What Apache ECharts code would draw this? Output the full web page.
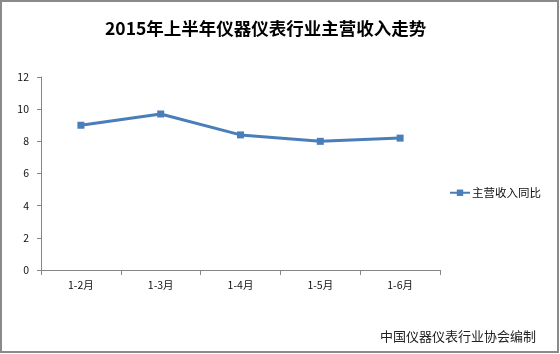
<!DOCTYPE html>
<html>
<head>
<meta charset="utf-8">
<script src="https://cdn.jsdelivr.net/npm/echarts@6/dist/echarts.min.js"></script>
<style>
  html, body { margin: 0; padding: 0; background: #fff; }
  #main { width: 560px; height: 354px; }
</style>
</head>
<body>
<div id="main"></div>
<script>
var months = ['1-2月', '1-3月', '1-4月', '1-5月', '1-6月'];
var revenueYoY = [9.0, 9.7, 8.4, 8.0, 8.2];
var yTicks = { min: 0, max: 12, interval: 2 };

var chart = echarts.init(document.getElementById('main'));

var option = {
  animation: false,
  backgroundColor: '#fff',
  textStyle: { fontFamily: '"Noto Sans CJK SC", sans-serif' },
  title: {
    text: '2015年上半年仪器仪表行业主营收入走势',
    left: 100,
    top: 15,
    textStyle: { fontSize: 17.5, fontWeight: 'bold', color: '#000' }
  },
  graphic: [
    {
      type: 'rect',
      shape: { x: 1, y: 1, width: 557, height: 351 },
      style: { fill: 'none', stroke: '#8a8a8a', lineWidth: 2 },
      silent: true
    },
    {
      type: 'text',
      right: 24,
      top: 330,
      style: { text: '中国仪器仪表行业协会编制', fontSize: 13, fill: '#222', fontFamily: '"Noto Sans CJK SC", sans-serif' }
    }
  ],
  legend: {
    left: 444,
    top: 182,
    itemWidth: 20,
    itemHeight: 8,
    itemGap: 4,
    textStyle: { fontSize: 11.5, color: '#111', padding: [0, 0, 0, -3] },
    data: ['主营收入同比']
  },
  grid: { left: 41, right: 120, top: 77, bottom: 84 },
  xAxis: {
    type: 'category',
    data: months,
    boundaryGap: true,
    axisLine: { lineStyle: { color: '#868686' } },
    axisTick: { show: true, length: 5, inside: false, lineStyle: { color: '#868686' } },
    axisLabel: { fontSize: 10.5, color: '#111', margin: 10 }
  },
  yAxis: {
    type: 'value',
    min: yTicks.min,
    max: yTicks.max,
    interval: yTicks.interval,
    axisLine: { show: true, lineStyle: { color: '#868686' } },
    axisTick: { show: true, length: 4, lineStyle: { color: '#868686' } },
    splitLine: { show: false },
    axisLabel: { fontSize: 10.5, color: '#111', margin: 12 }
  },
  series: [
    {
      name: '主营收入同比',
      type: 'line',
      data: revenueYoY,
      symbol: 'rect',
      symbolSize: 7,
      lineStyle: { color: '#4a7ebb', width: 3 },
      itemStyle: { color: '#4a7ebb' }
    }
  ]
};

chart.setOption(option);
</script>
</body>
</html>
